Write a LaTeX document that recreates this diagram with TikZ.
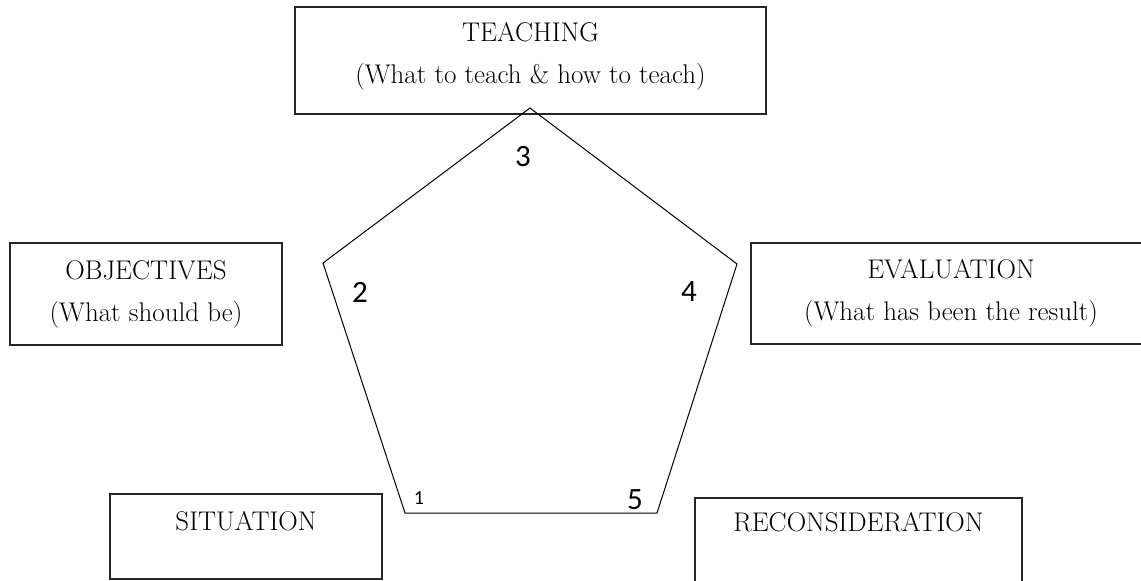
\documentclass[tikz,border=0pt]{standalone}
\usepackage{fontspec}
\newfontfamily\numfont{Carlito}
\tikzset{
    stage/.style={draw, line width=1.1pt, draw=black!85, align=center, inner sep=0pt,
        font=\fontsize{27}{42}\selectfont},
    corner/.style={inner sep=0pt, font=\numfont\fontsize{31}{31}\selectfont}
}
\begin{document}
\begin{tikzpicture}[x=1pt, y=-1pt]
        \useasboundingbox (0,0) rectangle (1141,581);
        % the five stages
        \node[stage, minimum width=471pt, minimum height=107pt] (teaching) at (530.5,60.5) {TEACHING\\(What to teach \& how to teach)\\[-26pt]\mbox{}};
        \node[stage, minimum width=272pt, minimum height=102pt] (objectives) at (146,294) {OBJECTIVES\\(What should be)};
        \node[stage, minimum width=400pt, minimum height=101pt] (evaluation) at (951,293.5) {EVALUATION\\(What has been the result)};
        \node[stage, minimum width=272pt, minimum height=85pt] (situation) at (246,536.5) {SITUATION\\[-10pt]\mbox{}};
        \node[stage, minimum width=327pt, minimum height=100pt] (reconsideration) at (858.5,548) {RECONSIDERATION\\[10pt]\mbox{}};
        % pentagon
        \coordinate (p1) at (405,513);
        \coordinate (p2) at (323,263);
        \coordinate (p3) at (530,108);
        \coordinate (p4) at (737,264);
        \coordinate (p5) at (657,513);
        \draw[line width=1pt] (p1) -- (p2) -- (p3) -- (p4) -- (p5) -- cycle;
        \node[corner] (n3) at (523,157) {3};
        \node[corner] (n2) at (360,292) {2};
        \node[corner] (n4) at (689,292) {4};
        \node[corner] (n5) at (635,500) {5};
        \node[inner sep=0pt, font=\numfont\fontsize{20}{20}\selectfont] (n1) at (419,498) {1};
\end{tikzpicture}
\end{document}
